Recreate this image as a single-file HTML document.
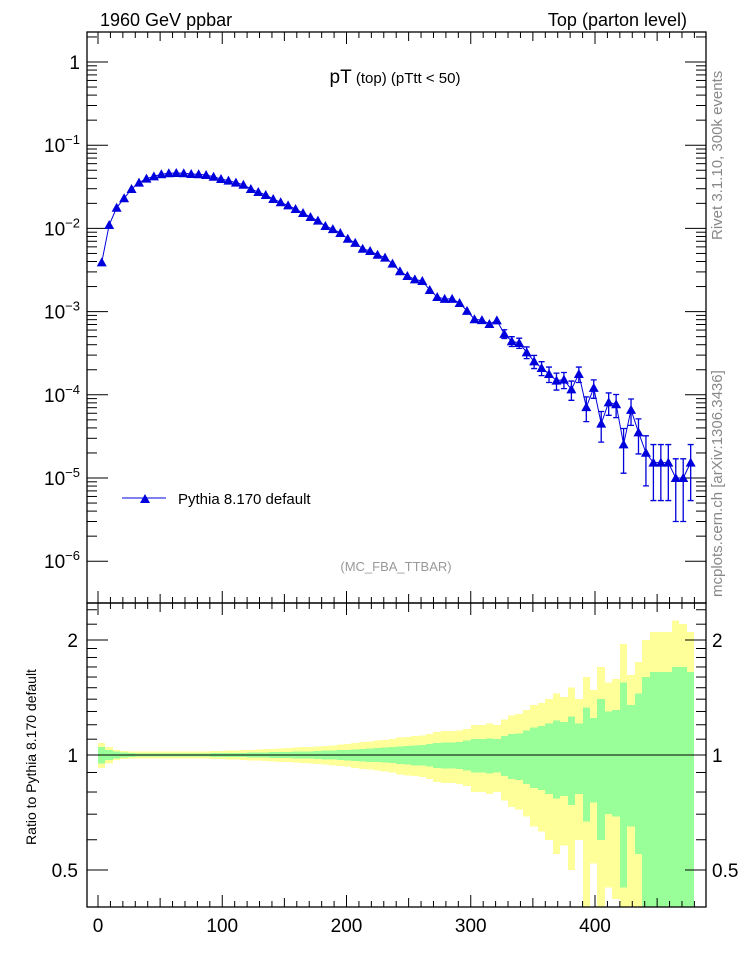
<!DOCTYPE html>
<html><head><meta charset="utf-8"><style>
html,body{margin:0;padding:0;background:#fff;overflow:hidden;width:746px;height:972px;}
svg{display:block;font-family:"Liberation Sans",sans-serif;}
</style></head><body>
<svg id="chart" width="746" height="972" viewBox="0 0 746 972" xmlns="http://www.w3.org/2000/svg">
<defs>
<clipPath id="mainClip"><rect x="87" y="32" width="619" height="571"/></clipPath>
<clipPath id="ratioClip"><rect x="87" y="603" width="619" height="304"/></clipPath>
</defs>
<text x="100" y="26" font-size="18">1960 GeV ppbar</text>
<text x="687" y="26" font-size="18" text-anchor="end">Top (parton level)</text>
<text x="395" y="83" text-anchor="middle"><tspan font-size="19">pT</tspan><tspan font-size="15"> (top) (pTtt &lt; 50)</tspan></text>
<text x="396" y="571" font-size="13" fill="#999" text-anchor="middle">(MC_FBA_TTBAR)</text>
<text transform="translate(722,240) rotate(-90)" font-size="15" fill="#888">Rivet 3.1.10,  300k events</text>
<text transform="translate(722,597) rotate(-90)" font-size="15" fill="#888">mcplots.cern.ch [arXiv:1306.3436]</text>
<text transform="translate(36,757) rotate(-90)" font-size="14" text-anchor="middle">Ratio to Pythia 8.170 default</text>
<g id="bands" clip-path="url(#ratioClip)" shape-rendering="crispEdges"></g>
<g id="axes"></g>
<g id="series" clip-path="url(#mainClip)"></g>
<g>
<line x1="122" y1="498" x2="166" y2="498" stroke="#0000dd" stroke-width="1"/>
<polygon points="140,503 150,503 145,494" fill="#0000dd"/>
<text x="178" y="504" font-size="15">Pythia 8.170 default</text>
</g>
</svg>
<script>
const values = [3.9e-3,1.1e-2,1.77e-2,2.3e-2,2.98e-2,3.55e-2,3.96e-2,4.22e-2,4.47e-2,4.6e-2,
4.63e-2,4.6e-2,4.5e-2,4.47e-2,4.38e-2,4.18e-2,3.92e-2,3.75e-2,3.55e-2,3.35e-2,
2.98e-2,2.74e-2,2.52e-2,2.26e-2,2.06e-2,1.89e-2,1.71e-2,1.53e-2,1.37e-2,1.24e-2,
1.07e-2,9.8e-3,8.8e-3,7.5e-3,6.7e-3,5.7e-3,5.35e-3,4.83e-3,4.45e-3,3.77e-3,
3.05e-3,2.68e-3,2.44e-3,2.33e-3,1.82e-3,1.5e-3,1.42e-3,1.42e-3,1.27e-3,1.02e-3,
8.1e-4,7.9e-4,7.1e-4,7.85e-4,5.4e-4,4.4e-4,4.2e-4,3.24e-4,2.52e-4,2.1e-4,
1.78e-4,1.48e-4,1.52e-4,1.16e-4,1.78e-4,7.1e-5,1.21e-4,4.5e-5,8.1e-5,7.7e-5,
2.54e-5,6.6e-5,3.54e-5,2.01e-5,1.53e-5,1.53e-5,1.53e-5,1.0e-5,1.0e-5,1.53e-5];
const statErr = [.05,.03,.02,.015,.012,.01,.01,.01,.01,.01,
.01,.01,.01,.01,.01,.011,.011,.012,.012,.013,
.014,.015,.016,.017,.018,.019,.02,.021,.022,.024,
.026,.028,.03,.032,.035,.037,.04,.042,.045,.048,
.052,.056,.06,.062,.068,.075,.077,.078,.082,.09,
.1,.1,.105,.1,.12,.135,.14,.16,.18,.19,
.21,.23,.22,.26,.21,.33,.25,.4,.3,.31,
.55,.35,.45,.6,.65,.65,.65,.7,.7,.65];
const totErr = [.075,.05,.03,.025,.02,.02,.02,.02,.02,.02,
.02,.02,.02,.022,.022,.024,.025,.026,.028,.03,
.032,.034,.036,.038,.04,.042,.045,.048,.05,.053,
.056,.06,.064,.068,.075,.08,.085,.09,.095,.1,
.11,.115,.12,.125,.135,.15,.155,.155,.16,.17,
.2,.2,.21,.2,.24,.27,.28,.31,.35,.37,
.4,.45,.42,.5,.4,.6,.48,.7,.55,.58,
.95,.62,.75,1.0,1.1,1.1,1.1,1.25,1.2,1.1];
const binWidth = 6;
const xTicks = [0,100,200,300,400];
const yTickExps = [0,-1,-2,-3,-4,-5,-6];
const ratioTicks = [0.5,1,2];

const NS = "http://www.w3.org/2000/svg";
const X0 = 98, XS = 1.2425;
function xPix(v){return X0 + v*XS;}
function yPix(v){return 62 - 83.2*Math.log10(v);}
function rPix(r){return 755 - 115*Math.log2(r);}
const L=87,R=706,T=32,MB=603,RB=907;
function el(tag, attrs, parent){const e=document.createElementNS(NS,tag);for(const k in attrs)e.setAttribute(k,attrs[k]);parent.appendChild(e);return e;}

const axes=document.getElementById('axes');
const bands=document.getElementById('bands');
const series=document.getElementById('series');

for(let i=0;i<values.length;i++){
  const x1=Math.round(xPix(i*binWidth)), x2=Math.round(xPix((i+1)*binWidth));
  const yLo=Math.max(1-totErr[i],0.01), yHi=1+totErr[i];
  const yb=el('rect',{x:x1,y:rPix(yHi),width:x2-x1,height:rPix(yLo)-rPix(yHi),fill:'#ffff99'},bands);
  
  
  const gLo=Math.max(1-statErr[i],0.01), gHi=1+statErr[i];
  const gb=el('rect',{x:x1,y:rPix(gHi),width:x2-x1,height:rPix(gLo)-rPix(gHi),fill:'#99ff99'},bands);
  
  
}
const ref=el('line',{x1:L,x2:Math.round(xPix(values.length*binWidth)),y1:rPix(1),y2:rPix(1),stroke:'#000','stroke-width':1},bands);



const f1=el('rect',{x:L,y:T,width:R-L,height:MB-T,fill:'none',stroke:'#000','stroke-width':1.3},axes);


const f2=el('rect',{x:L,y:MB,width:R-L,height:RB-MB,fill:'none',stroke:'#000','stroke-width':1.3},axes);



for(let v=0; v<=480; v+=10){
  const x=xPix(v); const len = v%100===0?12:(v%50===0?9:6);
  for(const [y,d] of [[T,1],[MB,-1],[MB,1],[RB,-1]]){
    el('line',{x1:x,x2:x,y1:y,y2:y+d*len,stroke:'#000','stroke-width':1},axes);
  }
}
xTicks.forEach(v=>{
  const t=el('text',{x:xPix(v),y:932,'font-size':19,'text-anchor':'middle'},axes);
  t.textContent=v;
  
  
});

for(let e=0;e>=-6;e--){
  for(let m=1;m<10;m++){
    const v=m*Math.pow(10,e); const y=yPix(v);
    if(y<T||y>MB) continue;
    const len=m===1?21:10;
    el('line',{x1:L,x2:L+len,y1:y,y2:y,stroke:'#000','stroke-width':1},axes);
    el('line',{x1:R,x2:R-len,y1:y,y2:y,stroke:'#000','stroke-width':1},axes);
  }
}
for(let m=1;m<10;m++){const y=yPix(m*10);if(y>=T){el('line',{x1:L,x2:L+10,y1:y,y2:y,stroke:'#000'},axes);el('line',{x1:R,x2:R-10,y1:y,y2:y,stroke:'#000'},axes);}}
yTickExps.forEach(e=>{
  const y=yPix(Math.pow(10,e))+7;
  const t=el('text',{x:80,y:y,'font-size':19,'text-anchor':'end'},axes);
  
  
  if(e===0){t.textContent='1';}
  else{
    const a=document.createElementNS(NS,'tspan');a.textContent='10';t.appendChild(a);
    const b=document.createElementNS(NS,'tspan');b.setAttribute('font-size','13');b.setAttribute('dy','-8');b.textContent='\u2212'+(-e);t.appendChild(b);
  }
});

const rMinor=[0.4,0.5,0.6,0.7,0.8,0.9,1,1.1,1.2,1.3,1.4,1.5,1.6,1.7,1.8,1.9,2,2.2,2.4];
rMinor.forEach(r=>{
  const y=rPix(r); if(y<MB||y>RB) return;
  const major=(r===0.5||r===1||r===2); const len=major?21:10;
  el('line',{x1:L,x2:L+len,y1:y,y2:y,stroke:'#000'},axes);
  el('line',{x1:R,x2:R-len,y1:y,y2:y,stroke:'#000'},axes);
});
ratioTicks.forEach(r=>{
  const y=rPix(r)+7;
  const t=el('text',{x:78,y:y,'font-size':19,'text-anchor':'end'},axes);
  t.textContent=String(r);
  
  
  const t2=el('text',{x:712,y:y,'font-size':19},axes);
  t2.textContent=String(r);
  
  
});

const pts=values.map((v,i)=>[xPix((i+0.5)*binWidth),yPix(v)]);
const pl=el('polyline',{points:pts.map(p=>p.join(',')).join(' '),fill:'none',stroke:'#0000dd','stroke-width':1},series);


values.forEach((v,i)=>{
  const x=pts[i][0], y=pts[i][1];
  const hi=yPix(v*(1+statErr[i])), lo=yPix(Math.max(v*(1-statErr[i]),1e-8));
  if(lo-hi>8){
    const eb=el('path',{d:`M${x},${hi}V${lo}M${x-3},${hi}H${x+3}M${x-3},${lo}H${x+3}`,stroke:'#0000dd','stroke-width':1.3,fill:'none'},series);
    
    
  }
  const m=el('polygon',{points:`${x-5},${y+4} ${x+5},${y+4} ${x},${y-5}`,fill:'#0000dd'},series);
  
  
});
</script>
</body></html>
